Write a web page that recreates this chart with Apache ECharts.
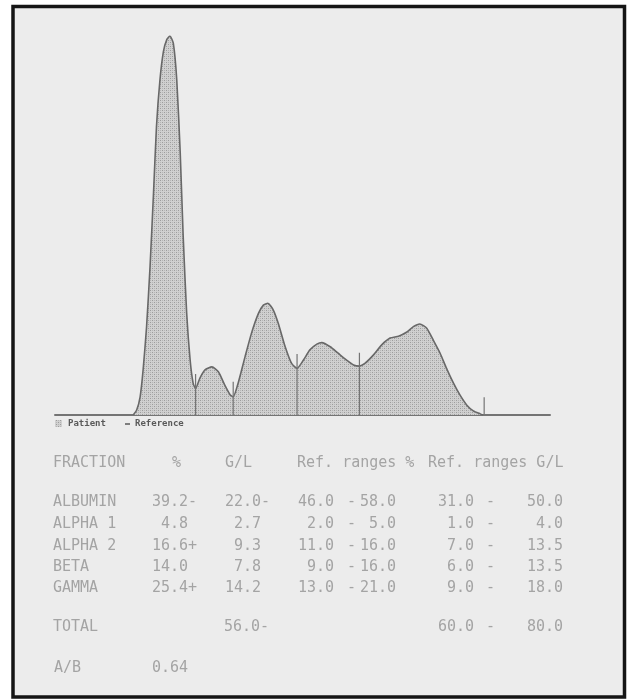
<!DOCTYPE html>
<html>
<head>
<meta charset="utf-8">
<title>Serum protein electrophoresis</title>
<script src="https://cdn.jsdelivr.net/npm/echarts@6/dist/echarts.min.js"></script>
<style>
  html, body { margin: 0; padding: 0; background: #ffffff; }
  #chart { width: 627px; height: 700px; }
</style>
</head>
<body>
<div id="chart"></div>
<script>
// Densitometric scan: position along the strip (0-100) and relative absorbance (0-100)
const scanX = [15.8, 16.5, 17.2, 17.8, 18.5, 19.2, 19.9, 20.5, 21.2, 21.9, 22.6, 23.2, 23.9, 24.6, 25.3, 25.9,
  26.6, 27.3, 27.9, 28.4, 29.3, 30.3, 31.7, 33.0, 34.3, 35.4, 36.0, 37.0, 38.4, 39.7, 41.1, 42.1, 43.0, 44.1,
  45.1, 46.5, 47.8, 48.9, 50.2, 51.5, 52.9, 53.9, 55.6, 57.2, 58.9, 60.3, 61.5, 62.6, 64.3, 66.0, 67.7, 69.4,
  71.1, 72.4, 73.7, 75.1, 76.4, 77.8, 79.1, 80.5, 81.8, 83.2, 84.5, 85.9, 86.5];
const scanY = [0, 1.3, 4.8, 11.9, 23.3, 39.1, 58.5, 76.1, 88.4, 95.9, 99.1, 100, 98.1, 88.4, 69.1, 47.0,
  26.9, 14.5, 8.4, 7.0, 9.8, 11.9, 12.7, 11.4, 7.9, 5.3, 4.8, 8.4, 15.4, 21.6, 26.8, 29.0, 29.5, 27.7,
  24.2, 18.0, 13.6, 12.3, 14.5, 17.2, 18.7, 19.1, 18.0, 16.3, 14.5, 13.2, 12.9, 13.6, 15.8, 18.5, 20.3, 20.8,
  21.9, 23.3, 24.0, 22.9, 19.8, 16.3, 12.3, 8.4, 5.3, 2.6, 1.1, 0.3, 0];

// Fraction boundaries (cut marks) and the height of each mark
const fractionBounds = [28.4, 36.0, 48.9, 61.5, 86.7];
const boundTops = [10.8, 8.8, 16.1, 16.4, 4.7];

// Result table
const headers = ['FRACTION', '%', 'G/L', 'Ref. ranges %', 'Ref. ranges G/L'];
const fractions = ['ALBUMIN', 'ALPHA 1', 'ALPHA 2', 'BETA', 'GAMMA'];
const pctValues = ['39.2-', ' 4.8', '16.6+', '14.0', '25.4+'];
const glValues = ['22.0-', ' 2.7', ' 9.3', ' 7.8', '14.2'];
const refPctLow = ['46.0', ' 2.0', '11.0', ' 9.0', '13.0'];
const refPctHigh = ['58.0', ' 5.0', '16.0', '16.0', '21.0'];
const refGlLow = ['31.0', ' 1.0', ' 7.0', ' 6.0', ' 9.0'];
const refGlHigh = ['50.0', ' 4.0', '13.5', '13.5', '18.0'];
const totalLabel = 'TOTAL';
const totalGl = '56.0-';
const totalRef = ['60.0', '80.0'];
const ratioLabel = 'A/B';
const ratioValue = '0.64';
const legendItems = ['Patient', 'Reference'];

// Halftone stipple used for the patient area
function makeStipple() {
  const c = document.createElement('canvas');
  c.width = 4; c.height = 4;
  const g = c.getContext('2d');
  g.fillStyle = '#d0d0d0';
  g.fillRect(0, 0, 4, 4);
  g.fillStyle = '#9c9c9c';
  g.fillRect(0, 0, 1, 1);
  g.fillRect(2, 2, 1, 1);
  g.fillStyle = '#b6b6b6';
  g.fillRect(2, 0, 1, 1);
  g.fillRect(0, 2, 1, 1);
  return c;
}
const stipple = makeStipple();

const chart = echarts.init(document.getElementById('chart'), null, { renderer: 'canvas' });

const scanData = scanX.map((x, i) => [x, scanY[i]]);

const boundSeries = fractionBounds.map((x, i) => ({
  type: 'line',
  name: 'cut' + i,
  data: [[x, 0], [x, boundTops[i]]],
  symbol: 'none',
  silent: true,
  z: 5,
  lineStyle: { color: '#747474', width: 1.2 }
}));

// Table text
const mono = '"DejaVu Sans Mono", "Liberation Mono", monospace';
const textColor = '#a4a4a4';
const graphics = [];
function addText(str, x, y) {
  graphics.push({
    type: 'text', left: x, top: y - 6, z: 10, silent: true,
    style: { text: str, font: '15px ' + mono, fill: textColor }
  });
}

// Page frame
graphics.push({
  type: 'rect', z: -10, silent: true,
  shape: { x: 13, y: 6.5, width: 611.5, height: 690.5 },
  style: { fill: '#ececec', stroke: '#151515', lineWidth: 3.5 }
});

const headerX = [53, 172, 225, 297, 428];
headers.forEach((h, i) => addText(h, headerX[i], 462));

const rowY = [501, 523, 545, 566, 587];
fractions.forEach((f, i) => {
  const y = rowY[i];
  addText(f, 53, y);
  addText(pctValues[i], 152, y);
  addText(glValues[i], 225, y);
  addText(refPctLow[i], 298, y);
  addText('-', 347, y);
  addText(refPctHigh[i], 360, y);
  addText(refGlLow[i], 438, y);
  addText('-', 486, y);
  addText(refGlHigh[i], 527, y);
});
addText(totalLabel, 53, 626);
addText(totalGl, 224, 626);
addText(totalRef[0], 438, 626);
addText('-', 486, 626);
addText(totalRef[1], 527, 626);
addText(ratioLabel, 54, 667);
addText(ratioValue, 152, 667);

// Legend under the scan
graphics.push({
  type: 'rect', silent: true, z: 10,
  shape: { x: 55, y: 420, width: 7, height: 7 },
  style: { fill: { image: stipple, repeat: 'repeat' } }
});
graphics.push({
  type: 'text', left: 68, top: 419, silent: true, z: 10,
  style: { text: legendItems[0], font: 'bold 9px ' + mono, fill: '#5a5a5a' }
});
graphics.push({
  type: 'line', silent: true, z: 10,
  shape: { x1: 125, y1: 424, x2: 130, y2: 424 },
  style: { stroke: '#5a5a5a', lineWidth: 1.5 }
});
graphics.push({
  type: 'text', left: 135, top: 419, silent: true, z: 10,
  style: { text: legendItems[1], font: 'bold 9px ' + mono, fill: '#5a5a5a' }
});

chart.setOption({
  backgroundColor: '#ffffff',
  animation: false,
  grid: { left: 55, right: 77, top: 36, bottom: 285 },
  xAxis: {
    type: 'value', min: 0, max: 100,
    axisLine: { show: true, onZero: false, lineStyle: { color: '#747474', width: 2 } },
    axisTick: { show: false }, axisLabel: { show: false }, splitLine: { show: false }
  },
  yAxis: {
    type: 'value', min: 0, max: 100, show: false,
    splitLine: { show: false }
  },
  series: [
    {
      type: 'line',
      name: 'Patient',
      data: scanData,
      smooth: 0.2,
      symbol: 'none',
      z: 4,
      lineStyle: { color: '#686868', width: 1.6 },
      areaStyle: { color: { image: stipple, repeat: 'repeat' }, opacity: 1 }
    }
  ].concat(boundSeries),
  graphic: graphics
});
</script>
</body>
</html>
